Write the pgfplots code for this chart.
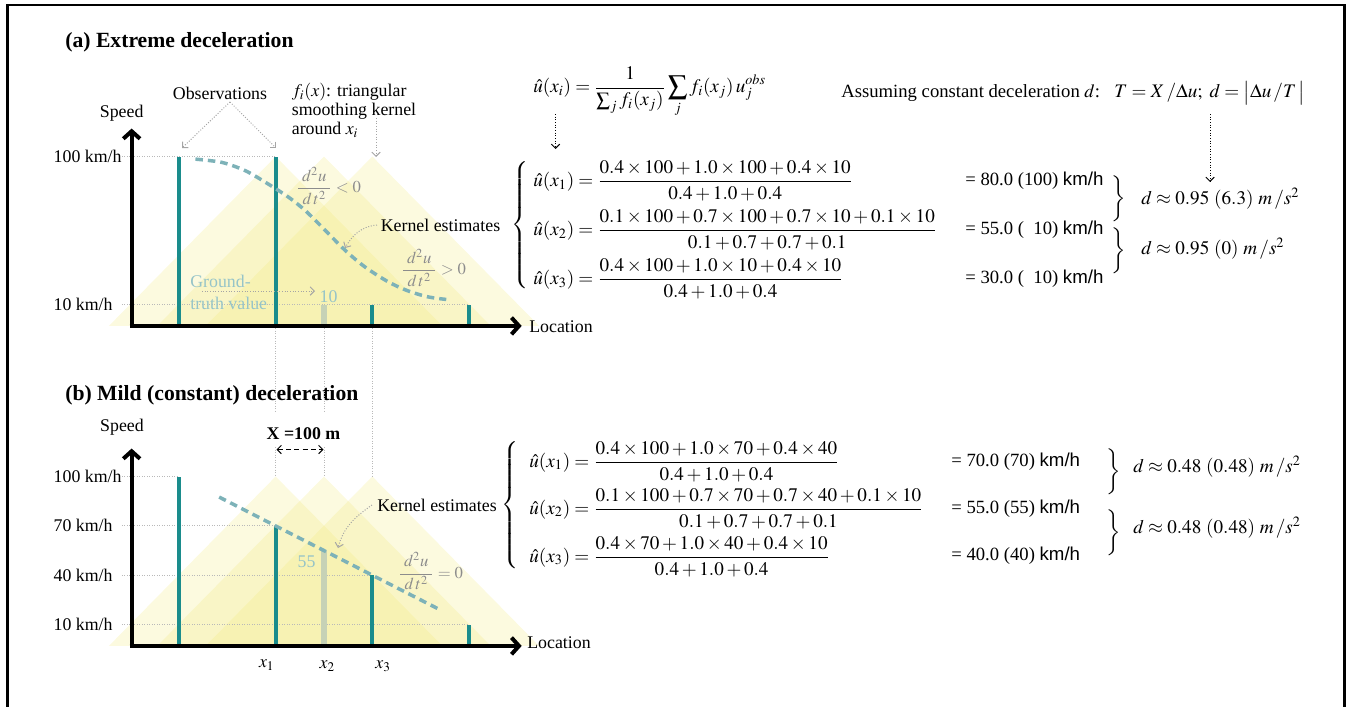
\documentclass[border=0pt]{standalone}
\usepackage{amsmath}
\usepackage{mathptmx}
\usepackage{fontspec}
\setmainfont{Liberation Serif}
\newfontfamily\sansf{Liberation Sans}
\usepackage{pgfplots}
\pgfplotsset{compat=1.18}
\usetikzlibrary{arrows.meta}
\definecolor{obsc}{RGB}{26,140,140}
\definecolor{gtc}{RGB}{198,210,182}
\definecolor{dashc}{RGB}{125,178,184}
\definecolor{tric}{RGB}{240,230,110}
\definecolor{gtxt}{RGB}{150,196,200}
\definecolor{gridc}{RGB}{185,185,185}
\definecolor{annc}{RGB}{165,165,165}
\definecolor{ddc}{RGB}{140,140,140}
\newcommand{\fs}{\fontsize{10.7}{12.5}\selectfont}
\newcommand{\fr}{\fontsize{11.5}{13.5}\selectfont}
\newcommand{\fv}{\fontsize{11.2}{13.5}\selectfont}
\pgfplotsset{
  panel/.style={hide axis, clip=false, x=0.29pt, y=0.987pt, xmin=-260, xmax=760, ymin=-10, ymax=125, anchor=south west},
  kern/.style={draw=none, fill=tric, fill opacity=0.22},
  obsbar/.style={obsc, line width=2.4pt, unbounded coords=jump, mark=none},
  gtbar/.style={gtc, line width=3.6pt, mark=none},
  curve/.style={dashc, line width=2.1pt, dash pattern=on 4.5pt off 3pt, mark=none},
}
\tikzset{
  axarrow/.style={line width=2.4pt, -{Straight Barb[length=4.5pt,width=10pt]}},
  ga/.style={annc, densely dotted, line width=0.6pt, -{Straight Barb[length=2.5pt,width=5pt]}},
  ba/.style={black, densely dotted, line width=0.6pt, -{Straight Barb[length=2.5pt,width=5pt]}},
  gl/.style={gridc, densely dotted, line width=0.5pt},
}
\begin{document}
\begin{tikzpicture}
\path[use as bounding box] (0pt,0pt) rectangle (808.2pt,-423.6pt);
% ---------------- panel (a)
\begin{axis}[panel, at={(32.0pt,-202.47pt)}]
\addplot[kern] coordinates {(-145,-3) (200,100) (545,-3)} -- cycle;
\addplot[kern] coordinates {(-45,-3) (300,100) (645,-3)} -- cycle;
\addplot[kern] coordinates {(55,-3) (400,100) (745,-3)} -- cycle;
\draw[gl] (axis cs:-118,100) -- (axis cs:200,100);
\draw[gl] (axis cs:-118,10) -- (axis cs:600,10);
\addplot[obsbar] coordinates {(0,-3) (0,100) (nan,nan) (200,-3) (200,100) (nan,nan) (400,-3) (400,10) (nan,nan) (600,-3) (600,10)};
\addplot[gtbar] coordinates {(300,-3) (300,10)};
\addplot[curve, smooth] coordinates {(34,98.4) (89,96.4) (137,91.4) (179,84.3) (227,75.2) (261,67.2) (296,57.1) (344,42.9) (385,32.8) (433,23.8) (474,18.3) (515,14.7) (553,13.1)};
\draw[axarrow] (axis cs:-102.2,-3) -- (axis cs:709,-3);
\draw[axarrow] (axis cs:-98,-4.2) -- (axis cs:-98,117);
\node[anchor=west, inner sep=0, font=\fs] at (axis cs:-260,100) {100 km/h};
\node[anchor=west, inner sep=0, font=\fs] at (axis cs:-260,10) {10 km/h};
\end{axis}
% ---------------- panel (b)
\begin{axis}[panel, at={(32.0pt,-394.47pt)}]
\addplot[kern] coordinates {(-145,-3) (200,100) (545,-3)} -- cycle;
\addplot[kern] coordinates {(-45,-3) (300,100) (645,-3)} -- cycle;
\addplot[kern] coordinates {(55,-3) (400,100) (745,-3)} -- cycle;
\draw[gl] (axis cs:-118,100) -- (axis cs:0,100);
\draw[gl] (axis cs:-118,70) -- (axis cs:200,70);
\draw[gl] (axis cs:-118,40) -- (axis cs:400,40);
\draw[gl] (axis cs:-118,10) -- (axis cs:600,10);
\addplot[obsbar] coordinates {(0,-3) (0,100) (nan,nan) (200,-3) (200,70) (nan,nan) (400,-3) (400,40) (nan,nan) (600,-3) (600,10)};
\addplot[gtbar] coordinates {(300,-3) (300,55)};
\addplot[curve] coordinates {(83,87.5) (542,18.7)};
\draw[axarrow] (axis cs:-102.2,-3) -- (axis cs:709,-3);
\draw[axarrow] (axis cs:-98,-4.2) -- (axis cs:-98,117);
\node[anchor=west, inner sep=0, font=\fs] at (axis cs:-260,100) {100 km/h};
\node[anchor=west, inner sep=0, font=\fs] at (axis cs:-260,70) {70 km/h};
\node[anchor=west, inner sep=0, font=\fs] at (axis cs:-260,40) {40 km/h};
\node[anchor=west, inner sep=0, font=\fs] at (axis cs:-260,10) {10 km/h};
\end{axis}
% ---------------- annotations (pixel coordinates)
\begin{scope}[x=0.6pt,y=-0.6pt]
\draw[line width=1.5pt] (7.5,720) -- (7.5,5) -- (1344.5,5) -- (1344.5,720);
\node[anchor=west, inner sep=0, font=\fontsize{13}{15}\selectfont\bfseries] at (65,42) {(a) Extreme deceleration};
\node[anchor=west, inner sep=0, font=\fontsize{13}{15}\selectfont\bfseries] at (65,395) {(b) Mild (constant) deceleration};
% vertical guide lines
\draw[gl] (275.7,328) -- (275.7,412); \draw[gl] (275.7,447) -- (275.7,476.5);
\draw[gl] (324,328) -- (324,412); \draw[gl] (324,447) -- (324,476.5);
\draw[gl] (372.3,328) -- (372.3,476.5);
% panel a labels
\node[font=\fs, inner sep=0] at (121.7,113) {Speed};
\node[font=\fs, inner sep=0] at (122,427) {Speed};
\node[font=\fs, inner sep=0, anchor=west] at (529,326.5) {Location};
\node[font=\fs, inner sep=0, anchor=west] at (527,643) {Location};
\node[font=\fs, inner sep=0] at (220,93) {Observations};
\draw[ga] (230,102) -- (182,148);
\draw[ga] (230,102) -- (276,148);
\node[font=\fontsize{10.7}{11.4}\selectfont, inner sep=0, anchor=west, align=left] at (291.5,110.5) {$f_i(x)$: triangular\\smoothing kernel\\around $x_i$};
\draw[ga] (376,118) -- (376,157);
\node[font=\fontsize{10}{12}\selectfont, text=ddc, inner sep=0, anchor=west] at (296,186) {$\dfrac{\;d^2u\;}{d\,t^2} < 0$};
\node[font=\fontsize{10}{12}\selectfont, text=ddc, inner sep=0, anchor=west] at (401,268) {$\dfrac{\;d^2u\;}{d\,t^2} > 0$};
\node[font=\fs, inner sep=0, anchor=west] at (380.5,225) {Kernel estimates};
\draw[ga] (377,225) to[out=185,in=60] (345,248);
\node[font=\fontsize{10.7}{13}\selectfont, text=gtxt, inner sep=0, anchor=west, align=left] at (190,292.5) {Ground-\\truth value};
\draw[ga] (202,291) -- (315,291);
\node[font=\fs, text=gtxt, inner sep=0] at (328.5,296.5) {10};
% panel b labels
\node[font=\fs\bfseries, inner sep=0] at (303.5,433.5) {X =100 m};
\draw[black, densely dashed, line width=0.6pt, {Straight Barb[length=2.5pt,width=5pt]}-{Straight Barb[length=2.5pt,width=5pt]}] (276.5,449.5) -- (323.5,449.5);
\node[font=\fs, inner sep=0, anchor=west] at (377,505) {Kernel estimates};
\draw[ga] (372,505) to[out=215,in=75] (338,548);
\node[font=\fs, text=gtxt, inner sep=0] at (306.5,562) {55};
\node[font=\fontsize{10}{12}\selectfont, text=ddc, inner sep=0, anchor=west] at (398,571) {$\dfrac{\;d^2u\;}{d\,t^2} = 0$};
\node[font=\fs, inner sep=0] at (266.7,665) {$x_1$};
\node[font=\fs, inner sep=0] at (327.3,666) {$x_2$};
\node[font=\fs, inner sep=0] at (383,666) {$x_3$};
% right side, panel a
\node[font=\fr, inner sep=0, anchor=west] at (533,92) {$\hat u(x_i) = \dfrac{1}{\sum_j f_i(x_j)}\displaystyle\sum_j f_i(x_j)\,u_j^{obs}$};
\draw[ba] (555.5,114) -- (555.5,149);
\node[font=\fv, inner sep=0, anchor=west] at (841,93) {Assuming constant deceleration $d$:};
\node[font=\fr, inner sep=0, anchor=west] at (1114,93) {$T = X\,/\Delta u;\ d = \bigl|\Delta u\,/T\,\bigr|$};
\draw[ba] (1210,114) -- (1210,182);
\node[font=\fr, inner sep=0, anchor=east] at (531,226) {$\left\{\vrule height 36pt depth 36pt width 0pt\right.$};
\node[font=\fr, inner sep=0, anchor=west] at (533,181) {$\hat u(x_1) = \dfrac{0.4\times100+1.0\times100+0.4\times10}{0.4+1.0+0.4}$};
\node[font=\fr, inner sep=0, anchor=west] at (533,230) {$\hat u(x_2) = \dfrac{0.1\times100+0.7\times100+0.7\times10+0.1\times10}{0.1+0.7+0.7+0.1}$};
\node[font=\fr, inner sep=0, anchor=west] at (533,279) {$\hat u(x_3) = \dfrac{0.4\times100+1.0\times10+0.4\times10}{0.4+1.0+0.4}$};
\node[font=\fv, inner sep=0, anchor=west] at (965,181) {= 80.0 (100) {\sansf km/h}};
\node[font=\fv, inner sep=0, anchor=west] at (965,230) {= 55.0 (\phantom{1}10) {\sansf km/h}};
\node[font=\fv, inner sep=0, anchor=west] at (965,279) {= 30.0 (\phantom{1}10) {\sansf km/h}};
\node[font=\fr, inner sep=0, anchor=west] at (1109,199) {$\left.\vrule height 11pt depth 11pt width 0pt\right\}$};
\node[font=\fr, inner sep=0, anchor=west] at (1109,251) {$\left.\vrule height 11pt depth 11pt width 0pt\right\}$};
\node[font=\fr, inner sep=0, anchor=west] at (1141,199) {$d \approx 0.95\ (6.3)\ m\,/s^2$};
\node[font=\fr, inner sep=0, anchor=west] at (1141,249) {$d \approx 0.95\ (0)\ m\,/s^2$};
% right side, panel b
\node[font=\fr, inner sep=0, anchor=east] at (521,506) {$\left\{\vrule height 36pt depth 36pt width 0pt\right.$};
\node[font=\fr, inner sep=0, anchor=west] at (529,461.5) {$\hat u(x_1) = \dfrac{0.4\times100+1.0\times70+0.4\times40}{0.4+1.0+0.4}$};
\node[font=\fr, inner sep=0, anchor=west] at (529,508.5) {$\hat u(x_2) = \dfrac{0.1\times100+0.7\times70+0.7\times40+0.1\times10}{0.1+0.7+0.7+0.1}$};
\node[font=\fr, inner sep=0, anchor=west] at (529,556.5) {$\hat u(x_3) = \dfrac{0.4\times70+1.0\times40+0.4\times10}{0.4+1.0+0.4}$};
\node[font=\fv, inner sep=0, anchor=west] at (951,462) {= 70.0 (70) {\sansf km/h}};
\node[font=\fv, inner sep=0, anchor=west] at (951,508.5) {= 55.0 (55) {\sansf km/h}};
\node[font=\fv, inner sep=0, anchor=west] at (951,556) {= 40.0 (40) {\sansf km/h}};
\node[font=\fr, inner sep=0, anchor=west] at (1104,472) {$\left.\vrule height 11pt depth 11pt width 0pt\right\}$};
\node[font=\fr, inner sep=0, anchor=west] at (1104,533) {$\left.\vrule height 11pt depth 11pt width 0pt\right\}$};
\node[font=\fr, inner sep=0, anchor=west] at (1133,467) {$d \approx 0.48\ (0.48)\ m\,/s^2$};
\node[font=\fr, inner sep=0, anchor=west] at (1133,528) {$d \approx 0.48\ (0.48)\ m\,/s^2$};
\end{scope}
\end{tikzpicture}
\end{document}
